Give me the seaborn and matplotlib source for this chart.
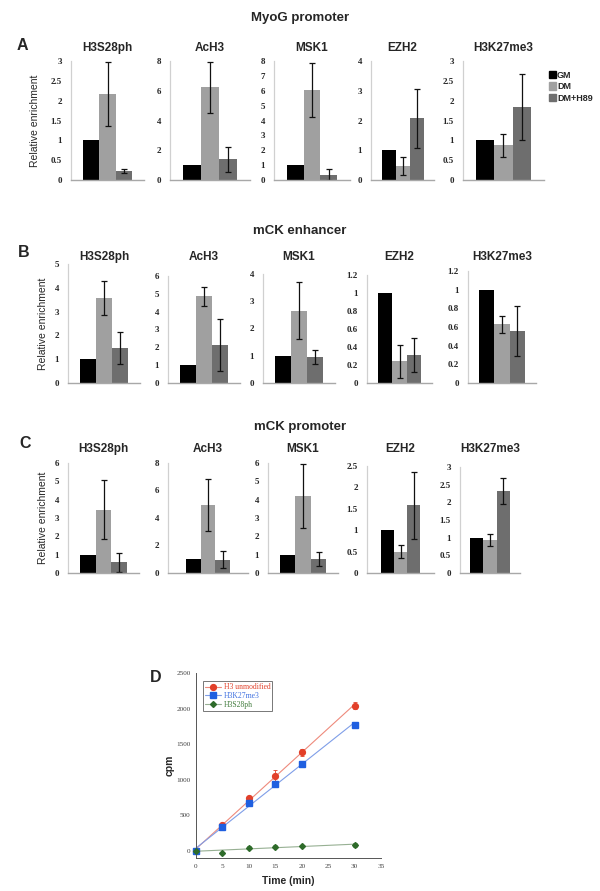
import matplotlib
matplotlib.use('Agg')
import numpy as np
import pandas as pd
import matplotlib.pyplot as plt
import matplotlib.patches as mpatches
from matplotlib.lines import Line2D
from matplotlib.ticker import MultipleLocator, FormatStrFormatter
import seaborn as sns

# ---------------- data ----------------
conditions = ['GM', 'DM', 'DM+H89']
marks = ['H3S28ph', 'AcH3', 'MSK1', 'EZH2', 'H3K27me3']
regions = ['MyoG promoter', 'mCK enhancer', 'mCK promoter']
panel_letters = ['A', 'B', 'C']

# MyoG promoter
myog_vals = [[1.0, 2.17, 0.22], [1.0, 6.22, 1.38], [1.0, 6.05, 0.35],
             [1.0, 0.47, 2.07], [1.01, 0.87, 1.84]]
myog_err = [[0, 0.80, 0.05], [0, 1.70, 0.87], [0, 1.82, 0.37],
            [0, 0.31, 0.98], [0, 0.30, 0.82]]
myog_ymax = [3, 8, 8, 4, 3]
myog_ystep = [0.5, 2, 1, 1, 0.5]

# mCK enhancer
enh_vals = [[1.0, 3.58, 1.48], [1.0, 4.86, 2.14], [1.0, 2.66, 0.96],
            [1.0, 0.24, 0.31], [1.0, 0.63, 0.56]]
enh_err = [[0, 0.71, 0.67], [0, 0.52, 1.47], [0, 1.06, 0.26],
           [0, 0.18, 0.19], [0, 0.09, 0.27]]
enh_ymax = [5, 6, 4, 1.2, 1.2]
enh_ystep = [1, 1, 1, 0.2, 0.2]

# mCK promoter
mck_vals = [[1.0, 3.46, 0.58], [1.0, 4.97, 0.98], [1.0, 4.22, 0.78],
            [1.0, 0.50, 1.58], [1.0, 0.93, 2.32]]
mck_err = [[0, 1.60, 0.52], [0, 1.88, 0.60], [0, 1.75, 0.38],
           [0, 0.16, 0.78], [0, 0.17, 0.37]]
mck_ymax = [6, 8, 6, 2.5, 3]
mck_ystep = [1, 2, 1, 0.5, 0.5]

# panel D kinetics
time_min = [0, 5, 10, 15, 20, 30]
h3_unmod = [0, 364, 743, 1051, 1383, 2042]
h3_unmod_err = [10, 30, 30, 80, 45, 50]
h3k27me3 = [0, 332, 668, 944, 1224, 1776]
h3k27me3_err = [10, 20, 30, 40, 30, 20]
h3s28ph = [0, -23, 47, 61, 70, 80]
h3s28ph_err = [10, 10, 15, 15, 15, 30]
kin_labels = ['H3 unmodified', 'H3K27me3', 'H3S28ph']

# ---------------- style ----------------
sns.set_style('white')
plt.rcParams['font.family'] = ['Liberation Sans', 'DejaVu Sans']
SERIF = ['Liberation Serif', 'DejaVu Serif']
W, H = 600, 891
bar_colors = ['#000000', '#a0a0a0', '#6e6e6e']

fig = plt.figure(figsize=(W / 100, H / 100), dpi=100)


def px_axes(left, top, width, bottom):
    return fig.add_axes([left / W, 1 - bottom / H, width / W, (bottom - top) / H])


def ftext(x, y, s, **kw):
    fig.text(x / W, 1 - y / H, s, ha='center', va='center', **kw)


rows = [
    (myog_vals, myog_err, myog_ymax, myog_ystep),
    (enh_vals, enh_err, enh_ymax, enh_ystep),
    (mck_vals, mck_err, mck_ymax, mck_ystep),
]
# layout in pixels
row_lefts = [[71, 170, 274, 371, 463], [68, 168, 263, 367, 468], [68, 168, 268, 367, 460]]
row_widths = [[73, 80, 76, 63, 81], [72, 72, 72, 65, 68], [71, 80, 70, 67, 60]]
row_tops = [[61] * 5, [264, 276, 274, 275, 271], [463, 463, 463, 466, 467]]
row_bottom = [180, 383, 573]
row_xpad = [[0.75] * 5, [0.75] * 5, [0.75, 1.2, 0.75, 1.05, 0.75]]
title_y = [48, 257, 449]
section_y = [18, 231, 427]
letter_xy = [(22, 46), (24, 253), (25, 444)]
ylabel_pad = [8, 4.5, 5]

for r, (vals, errs, ymaxs, steps) in enumerate(rows):
    ftext(300, section_y[r], regions[r], fontsize=9.5, fontweight='bold')
    ftext(letter_xy[r][0], letter_xy[r][1], panel_letters[r], fontsize=11.5, fontweight='bold')
    for c in range(5):
        ax = px_axes(row_lefts[r][c], row_tops[r][c], row_widths[r][c], row_bottom[r])
        df = pd.DataFrame({'condition': conditions, 'value': vals[c]})
        sns.barplot(data=df, x='condition', y='value', hue='condition',
                    palette=bar_colors, width=1.0, saturation=1, legend=False,
                    linewidth=0, ax=ax)
        centers = [p.get_x() + p.get_width() / 2 for p in ax.patches[:3]]
        ax.errorbar(centers[1:], vals[c][1:], yerr=errs[c][1:], fmt='none',
                    ecolor='#111111', elinewidth=0.9, capsize=2.2, capthick=0.9)
        pad = row_xpad[r][c]
        ax.set_xlim(-0.5 - pad, 2.5 + pad)
        ax.set_ylim(0, ymaxs[c])
        ax.yaxis.set_major_locator(MultipleLocator(steps[c]))
        ax.yaxis.set_major_formatter(FormatStrFormatter('%g'))
        ax.set_xticks([])
        ax.set_xlabel('')
        ax.tick_params(axis='y', length=0, pad=6.5)
        for lab in ax.get_yticklabels():
            lab.set_fontfamily(SERIF)
            lab.set_fontweight('bold')
            lab.set_fontsize(6.5)
        sns.despine(ax=ax)
        ax.spines['left'].set_color('#d0d0d0')
        ax.spines['left'].set_linewidth(0.9)
        ax.spines['bottom'].set_color('#a8a8a8')
        ax.spines['bottom'].set_linewidth(1.0)
        if c == 0:
            ax.set_ylabel('Relative enrichment', fontsize=7.5, labelpad=ylabel_pad[r])
        else:
            ax.set_ylabel('')
        cx = row_lefts[r][c] + row_widths[r][c] / 2
        ftext(cx, title_y[r], marks[c], fontsize=8.5, fontweight='bold')

# legend for bar panels
handles = [mpatches.Patch(color=col) for col in bar_colors]
fig.legend(handles, conditions, loc='upper left', bbox_to_anchor=(544 / W, 1 - 66 / H),
           frameon=False, borderpad=0, handlelength=0.8, handleheight=0.85,
           handletextpad=0.15, labelspacing=0.3,
           prop={'size': 6.5, 'weight': 'bold', 'family': 'Liberation Sans'})

# ---------------- panel D ----------------
axd = px_axes(196, 673, 185, 858)
series = [
    (h3_unmod, h3_unmod_err, 'o', '#e2402a', '#ee8a7c', 4.2, '#e2402a'),
    (h3k27me3, h3k27me3_err, 's', '#1f5fe0', '#7f9ee8', 4.2, '#3d6fe0'),
    (h3s28ph, h3s28ph_err, 'D', '#2e6b2a', '#97b093', 3.0, '#3f7a3a'),
]
kin_handles = []
for (yv, ye, mk, pc, lc, ms, tc), lab in zip(series, kin_labels):
    sns.regplot(x=time_min, y=yv, ax=axd, scatter=False, ci=None,
                color=lc, line_kws={'lw': 0.8, 'zorder': 2})
    axd.errorbar(time_min, yv, yerr=ye, fmt=mk, ms=ms, color=pc, ecolor=pc,
                 elinewidth=0.6, capsize=1.2, capthick=0.6, clip_on=False, zorder=3)
    kin_handles.append(Line2D([], [], color=lc, lw=0.8, marker=mk, ms=ms,
                              mfc=pc, mec=pc))

axd.set_xlim(0, 35)
axd.set_ylim(-100, 2500)
axd.xaxis.set_major_locator(MultipleLocator(5))
axd.yaxis.set_major_locator(MultipleLocator(500))
sns.despine(ax=axd)
for s in ['left', 'bottom']:
    axd.spines[s].set_color('#555555')
    axd.spines[s].set_linewidth(0.7)
axd.tick_params(direction='out', length=2.5, width=0.6, color='#555555',
                labelcolor='#444444', pad=1.5)
for lab in axd.get_xticklabels() + axd.get_yticklabels():
    lab.set_fontfamily(SERIF)
    lab.set_fontsize(5.2)
axd.set_xlabel('Time (min)', fontsize=7.5, fontweight='bold', labelpad=5)
axd.set_ylabel('cpm', fontsize=7.5, fontweight='bold', labelpad=1)
leg = axd.legend(kin_handles, kin_labels, loc='upper left', bbox_to_anchor=(0.015, 0.975),
                 frameon=True, fancybox=False, edgecolor='#555555', borderpad=0.25,
                 handlelength=2.2, handletextpad=0.3, labelspacing=0.1,
                 prop={'size': 5.5, 'family': SERIF},
                 labelcolor=[s[6] for s in series])
leg.get_frame().set_linewidth(0.7)
ftext(156, 678, 'D', fontsize=11.5, fontweight='bold')

fig.savefig('out.png', dpi=100)
